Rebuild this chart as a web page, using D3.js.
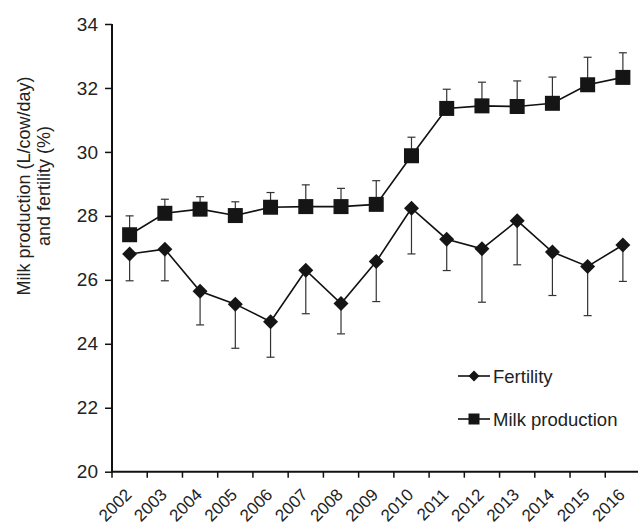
<!DOCTYPE html>
<html>
<head>
<meta charset="utf-8">
<script src="https://cdn.jsdelivr.net/npm/d3@7"></script>
<style>
  html, body { margin: 0; padding: 0; background: #fff; }
  svg { display: block; font-family: "Liberation Sans", Arial, sans-serif; }
</style>
</head>
<body>
<svg id="chart" width="638" height="524"></svg>
<script>
// Years on the x axis
const years = ["2002","2003","2004","2005","2006","2007","2008","2009",
               "2010","2011","2012","2013","2014","2015","2016"];

// Milk production (L/cow/day): means and standard deviations (drawn upward)
const milkMean = [27.41, 28.08, 28.21, 28.01, 28.27, 28.29, 28.29, 28.36,
                  29.88, 31.36, 31.44, 31.42, 31.52, 32.10, 32.33];
const milkSD   = [0.59, 0.44, 0.39, 0.43, 0.46, 0.68, 0.57, 0.74,
                  0.58, 0.60, 0.74, 0.80, 0.82, 0.86, 0.77];

// Fertility (%): means and standard deviations (drawn downward)
const fertMean = [26.81, 26.96, 25.64, 25.24, 24.69, 26.30, 25.26, 26.57,
                  28.24, 27.27, 26.97, 27.85, 26.87, 26.42, 27.09];
const fertSD   = [0.84, 0.99, 1.05, 1.38, 1.11, 1.36, 0.95, 1.25,
                  1.43, 0.98, 1.67, 1.38, 1.36, 1.54, 1.14];

const yTicks = [20, 22, 24, 26, 28, 30, 32, 34];

const svg = d3.select("#chart");
const plotLeft = 112, plotRight = 640.5, plotTop = 24, plotBottom = 471.7;

const x = d3.scaleBand().domain(years).range([plotLeft, plotRight]).padding(0);
const y = d3.scaleLinear().domain([20, 34]).range([plotBottom, plotTop]);
const cx = d => x(d) + x.bandwidth() / 2;

// y axis
const yAxis = svg.append("g")
  .attr("transform", `translate(${plotLeft},0)`)
  .call(d3.axisLeft(y).tickValues(yTicks).tickSize(7).tickPadding(7).tickFormat(d3.format("d")));
yAxis.select(".domain").attr("stroke", "#111").attr("stroke-width", 2).attr("d", `M0,${plotBottom}V${plotTop}`);
yAxis.selectAll(".tick line").attr("stroke", "#111").attr("stroke-width", 1.5);
yAxis.selectAll(".tick text").attr("font-size", 19).attr("fill", "#222")
  .attr("font-family", "'Liberation Sans', Arial, sans-serif");

// x axis: ticks on band boundaries, labels at band centres
const xAxisG = svg.append("g").attr("transform", `translate(0,${plotBottom})`);
xAxisG.append("line").attr("x1", plotLeft - 1).attr("x2", 640).attr("y1", 0).attr("y2", 0)
  .attr("stroke", "#111").attr("stroke-width", 2);
const boundaries = years.map(d => x(d)).concat([x(years[years.length - 1]) + x.bandwidth()]);
xAxisG.selectAll(".xtick").data(boundaries).join("line")
  .attr("x1", d => d).attr("x2", d => d).attr("y1", 0).attr("y2", 6)
  .attr("stroke", "#111").attr("stroke-width", 1.5);
xAxisG.selectAll(".xlab").data(years).join("text")
  .attr("transform", d => `translate(${cx(d) + 3},${24}) rotate(-45)`)
  .attr("text-anchor", "end")
  .attr("font-size", 17).attr("fill", "#222")
  .text(d => d);

// y axis title
const title = svg.append("text")
  .attr("transform", "translate(0,186) rotate(-90)")
  .attr("text-anchor", "middle").attr("font-size", 18).attr("fill", "#222");
title.append("tspan").attr("x", 0).attr("y", 30).text("Milk production (L/cow/day)");
title.append("tspan").attr("x", 0).attr("y", 50).text("and fertility (%)");

// error bars
function errorBars(means, sds, dir) {
  const g = svg.append("g").attr("stroke", "#333").attr("stroke-width", 1.2).attr("fill", "none");
  years.forEach((yr, i) => {
    const end = means[i] + dir * sds[i];
    g.append("line").attr("x1", cx(yr)).attr("x2", cx(yr))
      .attr("y1", y(means[i])).attr("y2", y(end));
    g.append("line").attr("x1", cx(yr) - 4).attr("x2", cx(yr) + 4)
      .attr("y1", y(end)).attr("y2", y(end));
  });
}
errorBars(milkMean, milkSD, +1);
errorBars(fertMean, fertSD, -1);

// series lines
const line = d3.line().x((d, i) => cx(years[i])).y(d => y(d));
svg.append("path").datum(milkMean).attr("d", line)
  .attr("fill", "none").attr("stroke", "#111").attr("stroke-width", 1.6);
svg.append("path").datum(fertMean).attr("d", line)
  .attr("fill", "none").attr("stroke", "#111").attr("stroke-width", 1.6);

// markers
const sq = 15;
svg.append("g").selectAll("rect").data(milkMean).join("rect")
  .attr("x", (d, i) => cx(years[i]) - sq / 2).attr("y", d => y(d) - sq / 2)
  .attr("width", sq).attr("height", sq).attr("fill", "#151515");
const diamond = r => `M0,${-r}L${r},0L0,${r}L${-r},0Z`;
svg.append("g").selectAll("path").data(fertMean).join("path")
  .attr("transform", (d, i) => `translate(${cx(years[i])},${y(d)})`)
  .attr("d", diamond(7.5)).attr("fill", "#151515");

// legend
const legend = svg.append("g");
const lx1 = 458, lx2 = 490, lmid = 474;
legend.append("line").attr("x1", lx1).attr("x2", lx2).attr("y1", 376).attr("y2", 376)
  .attr("stroke", "#111").attr("stroke-width", 1.6);
legend.append("path").attr("transform", `translate(${lmid},376)`).attr("d", diamond(5.5)).attr("fill", "#151515");
legend.append("text").attr("x", 493).attr("y", 383).attr("font-size", 18.5).attr("fill", "#222").text("Fertility");
legend.append("line").attr("x1", lx1).attr("x2", lx2).attr("y1", 419).attr("y2", 419)
  .attr("stroke", "#111").attr("stroke-width", 1.6);
legend.append("rect").attr("x", lmid - 5.5).attr("y", 419 - 5.5).attr("width", 11).attr("height", 11).attr("fill", "#151515");
legend.append("text").attr("x", 493).attr("y", 426).attr("font-size", 18.5).attr("fill", "#222").text("Milk production");
</script>
</body>
</html>
